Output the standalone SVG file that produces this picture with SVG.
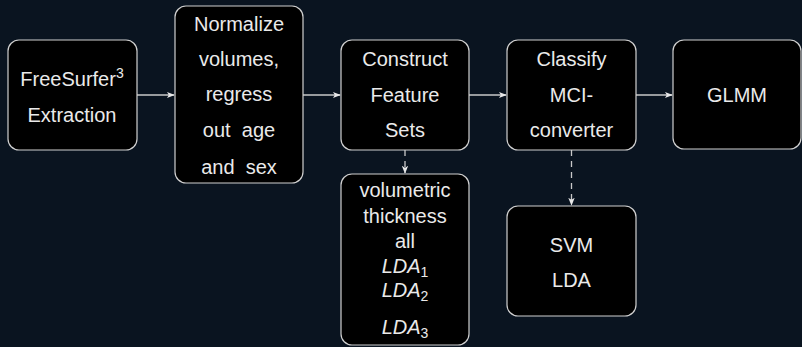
<svg xmlns="http://www.w3.org/2000/svg" width="802" height="347" viewBox="0 0 802 347">
<defs>
<style>
.box{fill:#000;stroke:#d0d0d0;stroke-width:1.2}
.t{font-family:"Liberation Sans",Arial,sans-serif;font-size:20px;fill:#eaeaea;text-anchor:middle}
.i{font-style:italic}
.c{stroke:#c8c8c8;stroke-width:1.3;fill:none}
.d{stroke-dasharray:6,5}
</style>
<marker id="ah" viewBox="0 0 10 10" refX="9" refY="5" markerWidth="8" markerHeight="8" markerUnits="userSpaceOnUse" orient="auto">
<path d="M0,1 L10,5 L0,9 L2.5,5 Z" fill="#e8e8e8"/>
</marker>
</defs>
<rect width="802" height="347" fill="#0a1420"/>
<g id="connectors">
<line class="c" x1="137" y1="95" x2="174" y2="95" marker-end="url(#ah)"/>
<line class="c" x1="303" y1="95" x2="340" y2="95" marker-end="url(#ah)"/>
<line class="c" x1="469" y1="95" x2="506" y2="95" marker-end="url(#ah)"/>
<line class="c" x1="636" y1="95" x2="672" y2="95" marker-end="url(#ah)"/>
<line class="c d" x1="405" y1="150" x2="405" y2="173" marker-end="url(#ah)"/>
<line class="c d" x1="571.5" y1="150" x2="571.5" y2="205" marker-end="url(#ah)"/>
</g>
<g id="freesurfer">
<rect class="box" x="8" y="40" width="129" height="110" rx="11"/>
<text class="t" x="72" y="86">FreeSurfer<tspan font-size="14" dy="-8">3</tspan></text>
<text class="t" x="72" y="122">Extraction</text>
</g>
<g id="normalize">
<rect class="box" x="175" y="6" width="128" height="177" rx="11"/>
<text class="t" x="239" y="31">Normalize</text>
<text class="t" x="239" y="66">volumes,</text>
<text class="t" x="239" y="101">regress</text>
<text class="t" x="239" y="137" xml:space="preserve">out  age</text>
<text class="t" x="239" y="174" xml:space="preserve">and  sex</text>
</g>
<g id="construct">
<rect class="box" x="341" y="40" width="128" height="110" rx="11"/>
<text class="t" x="405" y="66">Construct</text>
<text class="t" x="405" y="102">Feature</text>
<text class="t" x="405" y="137">Sets</text>
</g>
<g id="classify">
<rect class="box" x="507" y="40" width="129" height="110" rx="11"/>
<text class="t" x="571.5" y="66">Classify</text>
<text class="t" x="571.5" y="102">MCI-</text>
<text class="t" x="571.5" y="137">converter</text>
</g>
<g id="glmm">
<rect class="box" x="673" y="40" width="128" height="109" rx="11"/>
<text class="t" x="737" y="102">GLMM</text>
</g>
<g id="featuresets">
<rect class="box" x="341" y="174" width="128" height="171" rx="11"/>
<text class="t" x="405" y="197">volumetric</text>
<text class="t" x="405" y="223">thickness</text>
<text class="t" x="405" y="248">all</text>
<text class="t" x="405" y="273"><tspan class="i">LDA</tspan><tspan font-size="14" dy="4">1</tspan></text>
<text class="t" x="405" y="297"><tspan class="i">LDA</tspan><tspan font-size="14" dy="4">2</tspan></text>
<text class="t" x="405" y="334"><tspan class="i">LDA</tspan><tspan font-size="14" dy="4">3</tspan></text>
</g>
<g id="classifiers">
<rect class="box" x="507" y="206" width="129" height="110" rx="11"/>
<text class="t" x="571.5" y="252">SVM</text>
<text class="t" x="571.5" y="287">LDA</text>
</g>
</svg>
